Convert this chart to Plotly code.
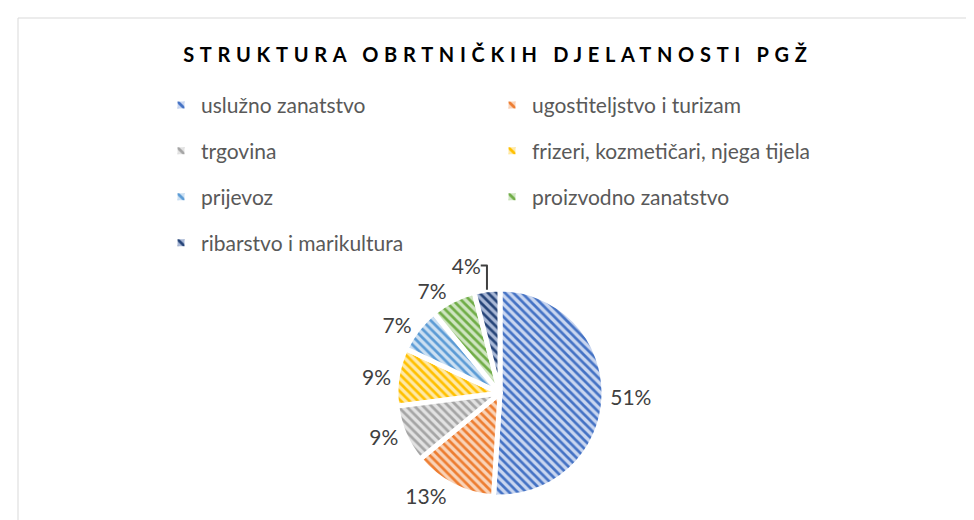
import plotly.graph_objects as go

labels = ["uslužno zanatstvo", "ugostiteljstvo i turizam", "trgovina",
          "frizeri, kozmetičari, njega tijela", "prijevoz",
          "proizvodno zanatstvo", "ribarstvo i marikultura"]
values = [51, 13, 9, 9, 7, 7, 4]
colors = ["#4472C4", "#ED7D31", "#A5A5A5", "#FFC000", "#5B9BD5", "#70AD47", "#264478"]
bgcolors = ["#C9D6F0", "#F9D3B8", "#E2E2E2", "#FFE9A6", "#CCE0F2", "#CFE5C1", "#A9B8D6"]
title = "STRUKTURA OBRTNIČKIH DJELATNOSTI PGŽ"

legend_labels = ["<span style='font-size:21px;baseline-shift:5px'>" + l + "</span>" for l in labels]

fig = go.Figure()
fig.add_trace(go.Pie(
    labels=legend_labels, values=values, sort=False, direction="clockwise", rotation=0,
    marker=dict(colors=colors, line=dict(color="white", width=5),
                pattern=dict(shape="\\", fillmode="replace", bgcolor=bgcolors,
                             size=6, solidity=0.45, fgcolor=colors)),
    texttemplate="%{percent:.0%}", textposition="outside",
    textfont=dict(size=21, color="#404040", family="Lato"),
    domain=dict(x=[388/974, 596/974], y=[31/520, 239/520]),
    hovertemplate="%{customdata}: %{percent}<extra></extra>",
    customdata=labels,
))

fig.update_layout(
    width=974, height=520,
    margin=dict(l=0, r=0, t=0, b=0),
    paper_bgcolor="white",
    title=dict(text="<span style='letter-spacing:5.7px'>" + title + "</span>",
               x=0.503, xanchor="center", y=1 - 47/520, yanchor="middle",
               font=dict(size=20, color="#000000", family="Lato", weight="bold")),
    legend=dict(orientation="h", x=153/974, xanchor="left", y=1 - 69/520, yanchor="top",
                entrywidth=286, entrywidthmode="pixels",
                bgcolor="rgba(0,0,0,0)",
                font=dict(size=33, color="#595959", family="Lato"),
                itemclick=False, traceorder="normal"),
    shapes=[dict(type="rect", xref="paper", yref="paper",
                 x0=10/974, x1=1.01, y0=-0.02, y1=1 - 10/520,
                 line=dict(color="#D9D9D9", width=1), fillcolor="rgba(0,0,0,0)")],
)

fig.write_html("out.html")
